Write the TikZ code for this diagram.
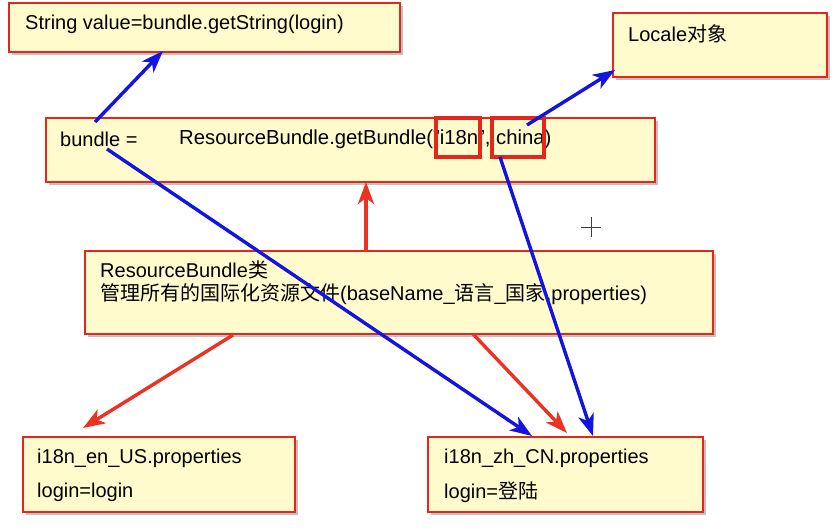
\documentclass[tikz,border=0pt]{standalone}
\usepackage{fontspec}
\setmainfont{Liberation Sans}
\newfontfamily\cjk{Noto Sans CJK SC}
\usetikzlibrary{arrows.meta,shadows}
\definecolor{boxfill}{RGB}{255,251,204}
\definecolor{boxred}{RGB}{228,38,28}
\definecolor{arrred}{RGB}{235,50,35}
\definecolor{arrblue}{RGB}{20,20,225}
\newcommand{\dq}{\char"22\relax}
\tikzset{
  box/.style={draw=boxred, line width=2.4bp, fill=boxfill, anchor=north west, inner sep=0pt, outer sep=0pt,
    drop shadow={shadow xshift=3bp, shadow yshift=-3bp, opacity=0.4, fill=black!60}},
  hilite/.style={draw=boxred, line width=3.2bp, anchor=north west, inner sep=0pt, outer sep=0pt},
  lbl/.style={anchor=west, inner sep=0pt, font=\fontsize{20bp}{24bp}\selectfont},
  bluearr/.style={draw=arrblue, line width=3.4bp, -{Stealth[length=22bp,width=16bp,inset=6bp]}},
  redarr/.style={draw=arrred, line width=3.4bp, -{Stealth[length=22bp,width=16bp,inset=6bp]}},
  cursor/.style={draw=black!75, line width=0.8bp}
}
\begin{document}
\begin{tikzpicture}[x=1bp,y=-1bp]
\useasboundingbox[fill=white] (0,0) rectangle (840,531);

% boxes
\node[box, minimum width=391bp, minimum height=49bp] (top) at (9,3) {};
\node[box, minimum width=214bp, minimum height=64bp] (locale) at (613,13) {};
\node[box, minimum width=609bp, minimum height=64bp] (bundle) at (46,118) {};
\node[box, minimum width=628bp, minimum height=83bp] (rb) at (85,251) {};
\node[box, minimum width=272bp, minimum height=75bp] (en) at (23,437) {};
\node[box, minimum width=275bp, minimum height=75bp] (zh) at (428,437) {};

% texts
\node[lbl] (ttop) at (25,24) {String value=bundle.getString(login)};
\node[lbl] (tlocale) at (628,34) {Locale{\cjk 对象}};
\node[lbl] (tb1) at (60,139) {bundle =};
\node[lbl, font=\fontsize{20.3bp}{24bp}\selectfont] (tb2) at (179,139) {ResourceBundle.getBundle(\dq i18n\dq, china)};
\node[lbl] (trb1) at (100,270) {ResourceBundle{\cjk 类}};
\node[lbl] (trb2) at (100,294) {{\cjk 管理所有的国际化资源文件}(baseName\_{\cjk 语言}\_{\cjk 国家}.properties)};
\node[lbl] (ten1) at (37,458) {i18n\_en\_US.properties};
\node[lbl] (ten2) at (37,492) {login=login};
\node[lbl] (tzh1) at (444,458) {i18n\_zh\_CN.properties};
\node[lbl] (tzh2) at (444,492) {login={\cjk 登陆}};

% highlight boxes
\node[hilite, minimum width=44bp, minimum height=39bp] (hi18n) at (436,118) {};
\node[hilite, minimum width=52bp, minimum height=39bp] (hchina) at (492,118) {};

% connector end points
\coordinate (bUp) at (95,122);
\coordinate (topIn) at (163,51);
\coordinate (bDown) at (107,149);
\coordinate (zhA) at (532,436);
\coordinate (chinaDown) at (500,157);
\coordinate (zhC) at (593,436);
\coordinate (chinaUp) at (527,125);
\coordinate (locIn) at (615,70);
\coordinate (rbUp) at (366,251);
\coordinate (bundleIn) at (366,182);
\coordinate (rbL) at (233,335);
\coordinate (enIn) at (83,428);
\coordinate (rbR) at (473,334);
\coordinate (zhB) at (567,433);

% red arrows
\draw[redarr] (rbUp) -- (bundleIn);
\draw[redarr] (rbL) -- (enIn);
\draw[redarr] (rbR) -- (zhB);

% blue arrows
\draw[bluearr] (bUp) -- (topIn);
\draw[bluearr] (bDown) -- (zhA);
\draw[bluearr] (chinaDown) -- (zhC);
\draw[bluearr] (chinaUp) -- (locIn);

% cursor cross
\coordinate (cur) at (591,227);
\draw[cursor] ([xshift=-10bp]cur) -- ([xshift=10bp]cur);
\draw[cursor] ([yshift=-10bp]cur) -- ([yshift=10bp]cur);
\end{tikzpicture}
\end{document}
